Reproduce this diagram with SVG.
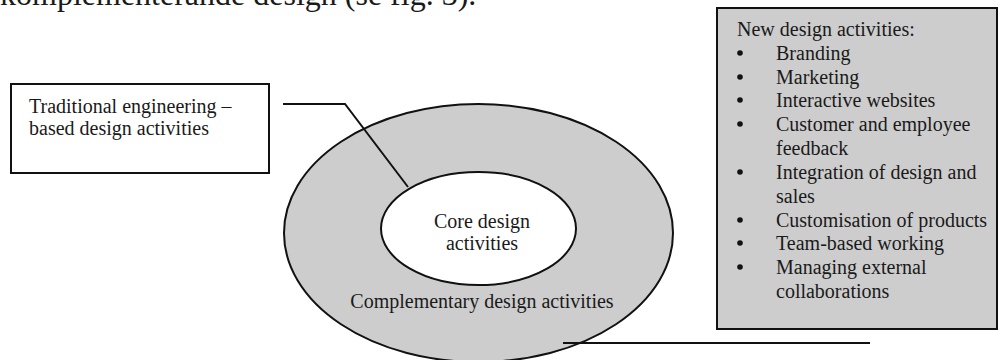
<svg xmlns="http://www.w3.org/2000/svg" width="998" height="360" viewBox="0 0 998 360">
<style>
text{font-family:"Liberation Serif","Times New Roman",serif;font-size:20px;fill:#1a1a1a}
.bul{fill:#111}
.ln{fill:none;stroke:#111;stroke-width:2}
.gray{fill:#cdcdcd;stroke:#111;stroke-width:2}
</style>
<rect width="998" height="360" fill="#fff"/>
<text x="0" y="5" style="font-size:32px">komplementerande design (se fig. 3).</text>
<g id="complementary">
<ellipse class="gray" cx="478.5" cy="233" rx="194.5" ry="129"/>
<text x="482" y="308" text-anchor="middle">Complementary design activities</text>
</g>
<g id="core">
<ellipse cx="478.5" cy="228.5" rx="97.5" ry="56.5" fill="#fff" stroke="#111" stroke-width="2"/>
<text x="482" y="228" text-anchor="middle">Core design</text>
<text x="482" y="250" text-anchor="middle">activities</text>
</g>
<g id="traditional">
<rect x="11" y="84" width="258" height="89" fill="#fff" stroke="#111" stroke-width="2"/>
<text x="29" y="113">Traditional engineering –</text>
<text x="29" y="135">based design activities</text>
</g>
<g id="new">
<rect class="gray" x="717" y="8" width="280" height="321"/>
<text x="737" y="36">New design activities:</text>
<g class="bul">
<circle cx="740" cy="53" r="2.8"/>
<circle cx="740" cy="77" r="2.8"/>
<circle cx="740" cy="100" r="2.8"/>
<circle cx="740" cy="124" r="2.8"/>
<circle cx="740" cy="172" r="2.8"/>
<circle cx="740" cy="220" r="2.8"/>
<circle cx="740" cy="243" r="2.8"/>
<circle cx="740" cy="267" r="2.8"/>
</g>
<text x="776" y="60">Branding</text>
<text x="776" y="84">Marketing</text>
<text x="776" y="107">Interactive websites</text>
<text x="776" y="131">Customer and employee</text>
<text x="776" y="155">feedback</text>
<text x="776" y="179">Integration of design and</text>
<text x="776" y="203">sales</text>
<text x="776" y="227">Customisation of products</text>
<text x="776" y="250">Team-based working</text>
<text x="776" y="274">Managing external</text>
<text x="776" y="298">collaborations</text>
</g>
<g id="connectors">
<polyline class="ln" points="283,104 345,104 408,187"/>
<line class="ln" x1="563" y1="343" x2="870" y2="343"/>
</g>
</svg>
